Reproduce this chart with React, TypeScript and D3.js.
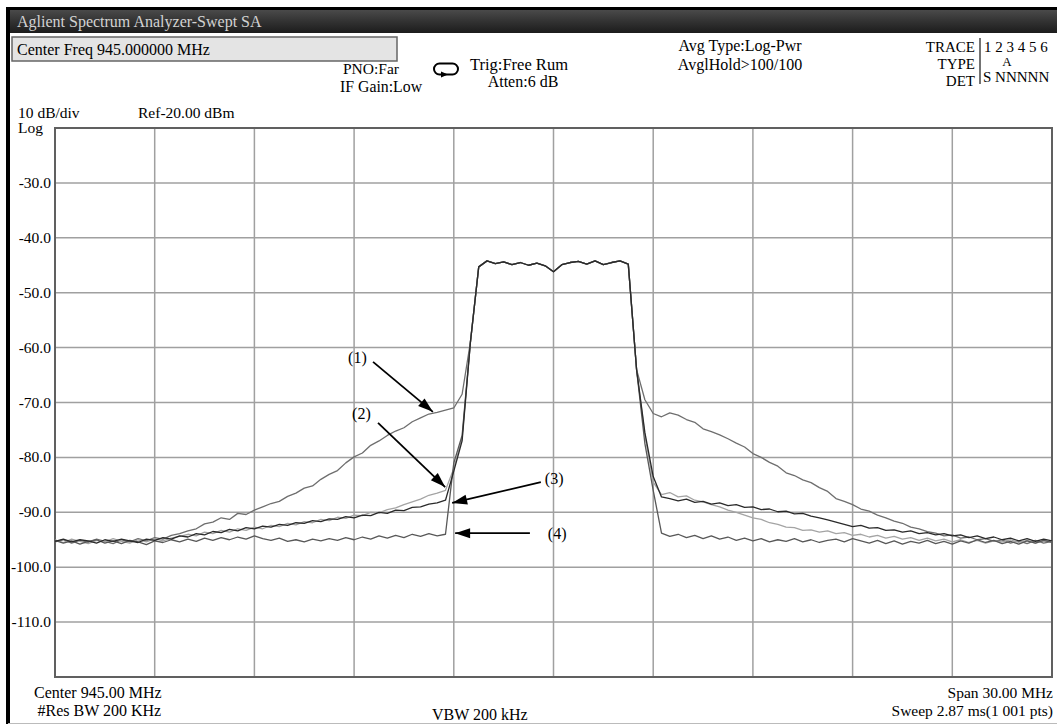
import React from "react";
import * as d3 from "d3";

// sweep: 930 MHz .. 960 MHz, one reading every 0.25 MHz
const sweepStart = 930;
const sweepStep = 0.25;

const gridFreqs = [930, 933, 936, 939, 942, 945, 948, 951, 954, 957, 960];
const gridLevels = [-20, -30, -40, -50, -60, -70, -80, -90, -100, -110, -120];
const levelLabels = [-30, -40, -50, -60, -70, -80, -90, -100, -110];

// shared passband (942.5 .. 947.5 MHz)
const passband = [
  -59.0, -45.3, -44.2, -44.7, -44.4, -44.9, -44.5, -45.0, -44.6, -45.1,
  -46.2, -44.9, -44.5, -44.3, -44.8, -44.2, -44.9, -44.5, -44.2, -44.8,
  -64.0,
];

// trace (1)
const left1 = [
  -95.4, -95.0, -95.6, -95.1, -95.5, -94.9, -95.3, -95.7, -95.0, -95.4,
  -94.8, -95.2, -94.6, -94.9, -94.2, -93.9, -93.4, -93.0, -92.1, -91.8,
  -91.0, -91.3, -90.2, -90.4, -89.6, -89.0, -88.4, -88.0, -87.1, -86.5,
  -85.6, -85.2, -84.0, -83.1, -82.4, -81.0, -79.9, -79.2, -77.8, -77.0,
  -76.0, -75.2, -74.6, -73.5, -72.8, -72.1, -71.8, -71.4, -71.0, -68.5,
];
const right1 = [
  -69.5, -72.0, -72.6, -71.9, -72.3, -73.1, -73.6, -74.8, -75.3, -75.9,
  -76.6, -77.4, -78.1, -79.3, -80.0, -80.9, -81.6, -82.8, -83.3, -84.1,
  -84.6, -85.5, -86.2, -87.5, -88.0, -88.6, -89.4, -89.8, -90.5, -91.0,
  -91.6, -92.0, -92.7, -93.0, -93.5, -93.8, -94.3, -94.1, -94.7, -94.5,
  -95.0, -94.8, -95.3, -95.0, -95.6, -95.2, -95.7, -95.1, -95.6, -95.3,
];

// trace (2)
const left2 = [
  -95.0, -95.5, -94.9, -95.3, -95.7, -95.1, -95.4, -94.8, -95.3, -95.6,
  -95.0, -95.4, -94.8, -95.2, -94.7, -94.4, -94.0, -94.3, -93.6, -93.9,
  -93.3, -93.6, -93.0, -93.3, -92.7, -93.0, -92.4, -92.6, -92.0, -92.3,
  -91.7, -91.9, -91.3, -91.5, -90.9, -91.1, -90.5, -90.6, -90.0, -90.1,
  -89.5, -89.2, -88.6, -88.1, -87.6, -86.9, -86.5, -86.0, -82.0, -76.5,
];
const right2 = [
  -76.0, -84.5, -86.8, -86.4, -87.2, -87.0, -87.8, -88.1, -88.6, -89.0,
  -89.6, -90.0, -90.5, -91.0, -91.3, -91.9, -92.2, -92.7, -92.8, -93.3,
  -93.2, -93.6, -93.4, -93.9, -93.7, -94.2, -94.0, -94.5, -94.2, -94.7,
  -94.4, -94.9, -94.6, -95.1, -94.7, -95.2, -94.9, -95.4, -95.0, -95.5,
  -95.1, -95.6, -95.2, -95.4, -95.0, -95.5, -95.1, -95.6, -95.2, -95.4,
];

// trace (3)
const left3 = [
  -95.3, -94.9, -95.4, -95.0, -95.2, -95.6, -95.0, -95.3, -94.9, -95.2,
  -95.5, -94.9, -95.1, -94.6, -94.9, -94.3, -94.5, -93.9, -94.1, -93.5,
  -93.7, -93.1, -93.4, -92.8, -93.0, -92.5, -92.7, -92.2, -92.4, -91.9,
  -92.0, -91.5, -91.7, -91.2, -91.3, -90.8, -91.0, -90.5, -90.6, -90.0,
  -90.2, -89.6, -89.7, -89.1, -89.0, -88.5, -88.3, -87.8, -82.5, -77.0,
];
const right3 = [
  -75.5, -83.5, -87.2, -87.5, -87.9, -87.6, -88.2, -88.0, -88.5, -88.3,
  -88.8, -88.6, -89.1, -89.0, -89.5, -89.4, -89.9, -89.8, -90.3, -90.2,
  -90.7, -91.0, -91.4, -91.8, -92.2, -92.6, -92.4, -92.9, -92.8, -93.3,
  -93.2, -93.6, -93.4, -93.9, -93.7, -94.1, -93.9, -94.3, -94.1, -94.6,
  -94.3, -94.8, -94.5, -95.0, -94.7, -95.2, -94.8, -95.3, -94.9, -95.2,
];

// trace (4)
const left4 = [
  -95.1, -95.6, -95.2, -95.8, -95.3, -95.0, -95.6, -95.2, -95.7, -95.1,
  -95.4, -95.9, -95.2, -95.5, -95.0, -95.4, -94.9, -95.3, -94.7, -95.1,
  -94.6, -95.0, -94.5, -94.9, -94.3, -94.8, -95.1, -94.7, -95.3, -95.0,
  -95.4, -94.9, -95.2, -94.8, -95.1, -94.6, -95.0, -94.5, -94.9, -94.3,
  -94.7, -94.2, -94.6, -94.0, -94.4, -93.9, -94.3, -94.0, -81.0, -76.0,
];
const right4 = [
  -77.5, -86.0, -93.8, -94.4, -94.0, -94.6, -94.2, -94.8, -94.3, -94.9,
  -94.5, -95.1, -94.7, -95.2, -94.8, -95.4, -95.0, -95.3, -94.8, -95.4,
  -95.0, -95.5, -95.1, -94.9, -95.4, -94.8, -95.2, -95.6, -95.1, -95.7,
  -95.2, -95.8, -95.3, -95.6, -95.1, -95.7, -95.3, -95.8, -95.2, -95.6,
  -95.0, -95.5, -95.1, -95.7, -95.3, -95.8, -95.2, -95.6, -95.1, -95.5,
];

const traces = [
  { name: "1", values: [...left1, ...passband, ...right1], color: "#6e6e6e" },
  { name: "2", values: [...left2, ...passband, ...right2], color: "#a4a4a4" },
  { name: "4", values: [...left4, ...passband, ...right4], color: "#585858" },
  { name: "3", values: [...left3, ...passband, ...right3], color: "#2a2a2a" },
];

// callouts: label spot and arrow, in MHz / dBm
const callouts = [
  { label: "(1)", at: [938.82, -62.8], from: [939.57, -62.6], to: [941.37, -71.7] },
  { label: "(2)", at: [938.94, -73.0], from: [939.72, -73.7], to: [941.74, -85.4] },
  { label: "(3)", at: [944.74, -84.8], from: [944.62, -84.5], to: [941.95, -88.3] },
  { label: "(4)", at: [944.83, -94.9], from: [944.29, -93.8], to: [942.04, -93.8] },
];

const serif = "'Liberation Serif', 'DejaVu Serif', serif";

export default function App() {
  const x = d3.scaleLinear().domain([930, 960]).range([55, 1052]);
  const y = d3.scaleLinear().domain([-120, -20]).range([677, 128]);

  const line = d3
    .line<number>()
    .x((_, i) => x(sweepStart + i * sweepStep))
    .y((d) => y(d));

  const arrowHead = (x1: number, y1: number, x2: number, y2: number) => {
    const a = Math.atan2(y2 - y1, x2 - x1);
    const len = 15, half = 5;
    const bx = x2 - len * Math.cos(a), by = y2 - len * Math.sin(a);
    const px = -Math.sin(a) * half, py = Math.cos(a) * half;
    return `M${x2},${y2}L${bx + px},${by + py}L${bx - px},${by - py}Z`;
  };

  return (
    <svg
      width={1057}
      height={727}
      style={{ position: "absolute", left: 0, top: 0, background: "#fff" }}
      fontFamily={serif}
    >
      <defs>
        <linearGradient id="bar" x1="0" y1="0" x2="0" y2="1">
          <stop offset="0" stopColor="#4c4c4c" />
          <stop offset="0.5" stopColor="#333" />
          <stop offset="1" stopColor="#1c1c1c" />
        </linearGradient>
      </defs>

      {/* frame and title bar */}
      <rect x={8} y={9} width={1049} height={24} fill="url(#bar)" />
      <line x1={6} y1={8.5} x2={1057} y2={8.5} stroke="#000" strokeWidth={3} />
      <line x1={8} y1={7} x2={8} y2={724} stroke="#000" strokeWidth={4} />
      <line x1={8} y1={723.5} x2={1057} y2={723.5} stroke="#bbb" strokeWidth={1} />
      <text x={17} y={27} fontSize={16} fill="#d2d2d2">
        Aglient Spectrum Analyzer-Swept SA
      </text>

      <rect x={12} y={37} width={385} height={24} fill="#e4e4e4" stroke="#666" strokeWidth={1.5} />
      <text x={17} y={55} fontSize={16} fill="#000">
        Center Freq 945.000000 MHz
      </text>

      <text x={343} y={74} fontSize={15.5}>PNO:Far</text>
      <text x={340} y={92} fontSize={15.8}>IF Gain:Low</text>
      <rect x={434} y={63.5} width={24} height={11} rx={5.5} fill="none" stroke="#000" strokeWidth={2} />
      <path d="M441,71.5L448,74.5L441,77.5Z" fill="#000" />
      <text x={519} y={70} fontSize={16.5} textAnchor="middle">Trig:Free Rum</text>
      <text x={523} y={87} fontSize={16} textAnchor="middle">Atten:6 dB</text>
      <text x={740} y={51} fontSize={16} textAnchor="middle">Avg Type:Log-Pwr</text>
      <text x={740} y={70} fontSize={16} textAnchor="middle">AvglHold&gt;100/100</text>

      <text x={975} y={52} fontSize={15} textAnchor="end">TRACE</text>
      <text x={975} y={69} fontSize={15} textAnchor="end">TYPE</text>
      <text x={975} y={86} fontSize={15} textAnchor="end">DET</text>
      <line x1={980} y1={38} x2={980} y2={84} stroke="#444" strokeWidth={1.5} />
      <text x={984} y={52} fontSize={15}>1 2 3 4 5 6</text>
      <text x={1007} y={66} fontSize={13} textAnchor="middle">A</text>
      <text x={983} y={82} fontSize={15}>S NNNNN</text>

      <text x={18} y={118} fontSize={15.5}>10 dB/div</text>
      <text x={138} y={118} fontSize={15.5}>Ref-20.00 dBm</text>
      <text x={18} y={133} fontSize={15.5}>Log</text>

      {/* graticule */}
      {gridFreqs.map((f) => (
        <line key={"v" + f} x1={x(f)} x2={x(f)} y1={y(-20)} y2={y(-120)} stroke="#a0a0a0" strokeWidth={1.5} />
      ))}
      {gridLevels.map((l) => (
        <line key={"h" + l} x1={x(930)} x2={x(960)} y1={y(l)} y2={y(l)} stroke="#a0a0a0" strokeWidth={1.5} />
      ))}
      <rect
        x={x(930)}
        y={y(-20)}
        width={x(960) - x(930)}
        height={y(-120) - y(-20)}
        fill="none"
        stroke="#606060"
        strokeWidth={2}
      />
      {levelLabels.map((l) => (
        <text key={"t" + l} x={51} y={y(l) + 5} fontSize={15.5} textAnchor="end">
          {"-" + Math.abs(l).toFixed(1)}
        </text>
      ))}

      {/* traces */}
      {traces.map((t) => (
        <path
          key={t.name}
          d={line(t.values) || ""}
          fill="none"
          stroke={t.color}
          strokeWidth={1.3}
          strokeLinejoin="round"
        />
      ))}

      {/* callouts */}
      {callouts.map((c) => {
        const x1 = x(c.from[0]), y1 = y(c.from[1]);
        const x2 = x(c.to[0]), y2 = y(c.to[1]);
        return (
          <g key={c.label}>
            <text x={x(c.at[0])} y={y(c.at[1])} fontSize={16}>{c.label}</text>
            <line x1={x1} y1={y1} x2={x2} y2={y2} stroke="#000" strokeWidth={1.8} />
            <path d={arrowHead(x1, y1, x2, y2)} fill="#000" />
          </g>
        );
      })}

      {/* footer */}
      <text x={34} y={698} fontSize={16}>Center 945.00 MHz</text>
      <text x={37.5} y={716} fontSize={16}>#Res BW 200 KHz</text>
      <text x={432} y={720} fontSize={16}>VBW 200 kHz</text>
      <text x={1053} y={698} fontSize={15.5} textAnchor="end">Span 30.00 MHz</text>
      <text x={1053} y={716} fontSize={15.5} textAnchor="end">Sweep 2.87 ms(1 001 pts)</text>
    </svg>
  );
}
